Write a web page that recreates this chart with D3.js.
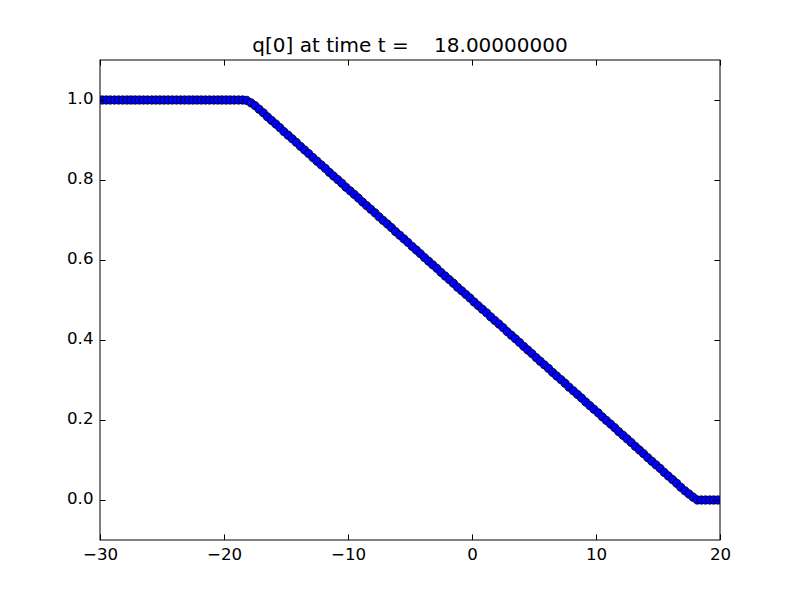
<!DOCTYPE html>
<html>
<head>
<meta charset="utf-8">
<script src="https://cdn.jsdelivr.net/npm/d3@7"></script>
<style>
  html, body { margin: 0; padding: 0; background: #fff; }
  text { font-family: "DejaVu Sans", sans-serif; }
</style>
</head>
<body>
<svg id="chart" width="800" height="600"></svg>
<script>
const titleText = "q[0] at time t =    18.00000000";
const xTicks = [-30, -20, -10, 0, 10, 20];
const yTicks = [0.0, 0.2, 0.4, 0.6, 0.8, 1.0];
const xValues = [
  -29.83,-29.5,-29.17,-28.83,-28.5,-28.17,-27.83,-27.5,-27.17,-26.83,-26.5,-26.17,
  -25.83,-25.5,-25.17,-24.83,-24.5,-24.17,-23.83,-23.5,-23.17,-22.83,-22.5,-22.17,
  -21.83,-21.5,-21.17,-20.83,-20.5,-20.17,-19.83,-19.5,-19.17,-18.83,-18.5,-18.17,
  -17.83,-17.5,-17.17,-16.83,-16.5,-16.17,-15.83,-15.5,-15.17,-14.83,-14.5,-14.17,
  -13.83,-13.5,-13.17,-12.83,-12.5,-12.17,-11.83,-11.5,-11.17,-10.83,-10.5,-10.17,
  -9.83,-9.5,-9.17,-8.83,-8.5,-8.17,-7.83,-7.5,-7.17,-6.83,-6.5,-6.17,
  -5.83,-5.5,-5.17,-4.83,-4.5,-4.17,-3.83,-3.5,-3.17,-2.83,-2.5,-2.17,
  -1.83,-1.5,-1.17,-0.83,-0.5,-0.17,0.17,0.5,0.83,1.17,1.5,1.83,
  2.17,2.5,2.83,3.17,3.5,3.83,4.17,4.5,4.83,5.17,5.5,5.83,
  6.17,6.5,6.83,7.17,7.5,7.83,8.17,8.5,8.83,9.17,9.5,9.83,
  10.17,10.5,10.83,11.17,11.5,11.83,12.17,12.5,12.83,13.17,13.5,13.83,
  14.17,14.5,14.83,15.17,15.5,15.83,16.17,16.5,16.83,17.17,17.5,17.83,
  18.17,18.5,18.83,19.17,19.5,19.83
];
const qValues = [
  1,1,1,1,1,1,1,1,1,1,1,1,
  1,1,1,1,1,1,1,1,1,1,1,1,
  1,1,1,1,1,1,1,1,1,1,1,0.999,
  0.993,0.986,0.977,0.968,0.958,0.949,0.940,0.931,0.921,0.912,0.903,0.894,
  0.884,0.875,0.866,0.856,0.847,0.838,0.829,0.819,0.810,0.801,0.792,0.782,
  0.773,0.764,0.755,0.745,0.736,0.727,0.718,0.708,0.699,0.690,0.681,0.671,
  0.662,0.653,0.644,0.634,0.625,0.616,0.606,0.597,0.588,0.579,0.569,0.560,
  0.551,0.542,0.532,0.523,0.514,0.505,0.495,0.486,0.477,0.468,0.458,0.449,
  0.440,0.431,0.421,0.412,0.403,0.394,0.384,0.375,0.366,0.356,0.347,0.338,
  0.329,0.319,0.310,0.301,0.292,0.282,0.273,0.264,0.255,0.245,0.236,0.227,
  0.218,0.208,0.199,0.190,0.181,0.171,0.162,0.153,0.144,0.134,0.125,0.116,
  0.106,0.097,0.088,0.079,0.069,0.060,0.051,0.042,0.032,0.023,0.015,0.007,
  0,0,0,0,0,0
];

(function () {
const svg = d3.select("#chart");
const mL = 100, mR = 720, mT = 60, mB = 540;
const x = d3.scaleLinear().domain([-30, 20]).range([mL, mR]);
const y = d3.scaleLinear().domain([-0.1, 1.1]).range([mB, mT]);

svg.append("rect").attr("x", 0).attr("y", 0).attr("width", 800).attr("height", 600).attr("fill", "#fff");

svg.append("clipPath").attr("id", "clip")
  .append("rect").attr("x", mL).attr("y", mT).attr("width", mR - mL).attr("height", mB - mT);

const pts = xValues.map((v, i) => ({ x: v, y: qValues[i] }));
svg.append("g").attr("clip-path", "url(#clip)")
  .selectAll("circle").data(pts).join("circle")
  .attr("cx", d => x(d.x)).attr("cy", d => y(d.y)).attr("r", 4.17)
  .attr("fill", "#0000ff").attr("stroke", "#000").attr("stroke-width", 0.8);

const fmtX = d => (d < 0 ? "\u2212" + Math.abs(d) : String(d));
const fmtY = d => d3.format(".1f")(d);
const tl = 5.6;

const axB = d3.axisBottom(x).tickValues(xTicks).tickFormat(fmtX).tickSizeInner(-tl).tickSizeOuter(0).tickPadding(8.2);
const axT = d3.axisTop(x).tickValues(xTicks).tickFormat("").tickSizeInner(-tl).tickSizeOuter(0);
const axL = d3.axisLeft(y).tickValues(yTicks).tickFormat(fmtY).tickSizeInner(-tl).tickSizeOuter(0).tickPadding(6.5);
const axR = d3.axisRight(y).tickValues(yTicks).tickFormat("").tickSizeInner(-tl).tickSizeOuter(0);

function style(g) {
  g.select(".domain").remove();
  g.selectAll("line").attr("stroke", "#000").attr("stroke-width", 1);
  g.selectAll("text").attr("font-family", "DejaVu Sans, sans-serif").attr("font-size", "16.67px").attr("fill", "#000");
}
svg.append("g").attr("transform", `translate(0,${mB})`).call(axB).call(style);
svg.append("g").attr("transform", `translate(0,${mT})`).call(axT).call(style);
svg.append("g").attr("transform", `translate(${mL},0)`).call(axL).call(style)
  .selectAll("text").attr("dy", "0.22em");
svg.append("g").attr("transform", `translate(${mR},0)`).call(axR).call(style);

svg.append("rect").attr("x", mL).attr("y", mT).attr("width", mR - mL).attr("height", mB - mT)
  .attr("fill", "none").attr("stroke", "#000").attr("stroke-width", 1);

svg.append("text").attr("x", (mL + mR) / 2).attr("y", 52)
  .attr("text-anchor", "middle").attr("font-size", "20px").attr("fill", "#000")
  .style("white-space", "pre").attr("xml:space", "preserve")
  .text(titleText);
})();
</script>
</body>
</html>
